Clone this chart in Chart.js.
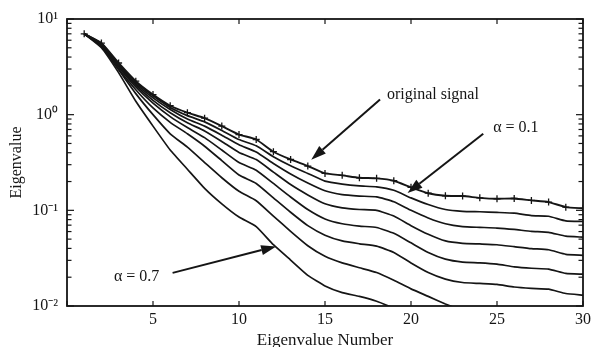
<!DOCTYPE html>
<html>
<head>
<meta charset="utf-8">
<script src="https://cdn.jsdelivr.net/npm/chart.js@4/dist/chart.umd.min.js"></script>
<style>
  body { margin: 0; background: #fff; }
</style>
</head>
<body>
<canvas id="myChart" width="595" height="347"></canvas>
<script>
const eigenNumber = [1, 2, 3, 4, 5, 6, 7, 8, 9, 10, 11, 12, 13, 14, 15,
  16, 17, 18, 19, 20, 21, 22, 23, 24, 25, 26, 27, 28, 29, 30];

const originalSignal = [7.0, 5.6, 3.47, 2.24, 1.62, 1.24, 1.05, 0.92, 0.76, 0.62,
  0.55, 0.41, 0.34, 0.29, 0.243, 0.232, 0.219, 0.216, 0.204, 0.174,
  0.151, 0.142, 0.141, 0.135, 0.132, 0.133, 0.127, 0.122, 0.108, 0.105];

const alpha1 = [7.0, 5.56, 3.39, 2.19, 1.57, 1.19, 0.977, 0.841, 0.684, 0.55,
  0.473, 0.363, 0.292, 0.243, 0.202, 0.188, 0.18, 0.176, 0.162, 0.135,
  0.115, 0.102, 0.0977, 0.0966, 0.0951, 0.0933, 0.0881, 0.0867, 0.0776, 0.0764];

const alpha2 = [7.0, 5.5, 3.31, 2.11, 1.5, 1.135, 0.902, 0.759, 0.61, 0.484,
  0.407, 0.309, 0.24, 0.193, 0.16, 0.146, 0.141, 0.138, 0.123, 0.1,
  0.0832, 0.0724, 0.0676, 0.0664, 0.0653, 0.0631, 0.0603, 0.0589, 0.0537, 0.0524];

const alpha3 = [7.0, 5.43, 3.24, 2.04, 1.41, 1.047, 0.822, 0.676, 0.525, 0.403,
  0.339, 0.251, 0.186, 0.145, 0.117, 0.106, 0.102, 0.1, 0.0871, 0.0692,
  0.0562, 0.0479, 0.0452, 0.0445, 0.0437, 0.0417, 0.0398, 0.0387, 0.0347, 0.0339];

const alpha4 = [7.0, 5.37, 3.16, 1.95, 1.32, 0.955, 0.733, 0.575, 0.427, 0.316,
  0.263, 0.191, 0.138, 0.102, 0.0813, 0.0724, 0.0684, 0.0661, 0.0575, 0.0457,
  0.0363, 0.0309, 0.0288, 0.0283, 0.0274, 0.0257, 0.0248, 0.0243, 0.0219, 0.0215];

const alpha5 = [7.0, 5.25, 3.02, 1.82, 1.175, 0.832, 0.631, 0.468, 0.331, 0.234,
  0.191, 0.135, 0.0955, 0.0692, 0.055, 0.0479, 0.0447, 0.0422, 0.0363, 0.0282,
  0.0224, 0.0191, 0.0176, 0.0172, 0.0168, 0.0158, 0.0153, 0.015, 0.0135, 0.013];

const alpha6 = [7.0, 5.13, 2.95, 1.66, 1.0, 0.631, 0.457, 0.316, 0.219, 0.158,
  0.126, 0.0871, 0.0603, 0.0427, 0.0331, 0.0282, 0.0251, 0.0224, 0.0186, 0.0151,
  0.0126, 0.0105, 0.0089];

const alpha7 = [7.0, 5.01, 2.75, 1.38, 0.759, 0.427, 0.269, 0.17, 0.117, 0.0851,
  0.0676, 0.0437, 0.0302, 0.0209, 0.0162, 0.0138, 0.0126, 0.0112, 0.0095, 0.0079];

const xTickValues = [0, 5, 10, 15, 20, 25, 30];
const yTickValues = [0.01, 0.1, 1, 10];
const yTickLabels = ['10\u207B\u00B2', '10\u207B\u00B9', '10\u2070', '10\u00B9'];

// annotations, positions in data units
const notes = [
  { text: 'original signal', at: [18.6, 1.62], align: 'left', from: [18.2, 1.44], to: [14.2, 0.338] },
  { text: '\u03B1 = 0.1', at: [26.1, 0.73], align: 'center', from: [24.2, 0.632], to: [19.8, 0.152] },
  { text: '\u03B1 = 0.7', at: [4.05, 0.0201], align: 'center', from: [6.14, 0.0222], to: [12.16, 0.042] }
];

const FONT = "'Liberation Serif', 'Times New Roman', serif";
const INK = '#151515';

function toPoints(values) {
  return values.map(function (v, i) { return { x: eigenNumber[i], y: v }; });
}

function curve(values, extra) {
  return Object.assign({
    data: toPoints(values),
    borderColor: INK,
    borderWidth: 1.7,
    pointRadius: 0,
    fill: false,
    tension: 0.15
  }, extra || {});
}

const dataSource = {
  datasets: [
    curve(originalSignal, { label: 'original signal', pointStyle: 'cross', pointRadius: 3.5,
      pointBorderColor: INK, pointBorderWidth: 1.3, borderWidth: 1.9 }),
    curve(alpha1, { label: 'alpha 0.1' }),
    curve(alpha2, { label: 'alpha 0.2' }),
    curve(alpha3, { label: 'alpha 0.3' }),
    curve(alpha4, { label: 'alpha 0.4' }),
    curve(alpha5, { label: 'alpha 0.5' }),
    curve(alpha6, { label: 'alpha 0.6' }),
    curve(alpha7, { label: 'alpha 0.7' })
  ]
};

function drawLine(ctx, x1, y1, x2, y2) {
  ctx.beginPath();
  ctx.moveTo(x1, y1);
  ctx.lineTo(x2, y2);
  ctx.stroke();
}

function drawArrow(ctx, x1, y1, x2, y2) {
  const ang = Math.atan2(y2 - y1, x2 - x1);
  const len = 15, half = 5;
  const bx = x2 - len * Math.cos(ang), by = y2 - len * Math.sin(ang);
  ctx.lineWidth = 2;
  drawLine(ctx, x1, y1, bx, by);
  ctx.beginPath();
  ctx.moveTo(x2, y2);
  ctx.lineTo(bx + half * Math.sin(ang), by - half * Math.cos(ang));
  ctx.lineTo(bx - half * Math.sin(ang), by + half * Math.cos(ang));
  ctx.closePath();
  ctx.fill();
}

const framePlugin = {
  id: 'frame',
  afterDraw(chart) {
    const ctx = chart.ctx, a = chart.chartArea;
    const x = chart.scales.x, y = chart.scales.y;
    ctx.save();
    ctx.strokeStyle = INK;
    ctx.fillStyle = INK;
    ctx.lineWidth = 1.8;
    ctx.strokeRect(a.left, a.top, a.right - a.left, a.bottom - a.top);

    ctx.lineWidth = 1.2;
    xTickValues.forEach(function (v) {
      const px = x.getPixelForValue(v);
      drawLine(ctx, px, a.bottom, px, a.bottom - 5);
      drawLine(ctx, px, a.top, px, a.top + 5);
    });
    yTickValues.forEach(function (d) {
      const py = y.getPixelForValue(d);
      drawLine(ctx, a.left, py, a.left + 7, py);
      drawLine(ctx, a.right, py, a.right - 7, py);
      if (d >= 10) return;
      for (let m = 2; m <= 9; m++) {
        const pm = y.getPixelForValue(d * m);
        drawLine(ctx, a.left, pm, a.left + 4.5, pm);
        drawLine(ctx, a.right, pm, a.right - 4.5, pm);
      }
    });

    notes.forEach(function (n) {
      drawArrow(ctx, x.getPixelForValue(n.from[0]), y.getPixelForValue(n.from[1]),
        x.getPixelForValue(n.to[0]), y.getPixelForValue(n.to[1]));
      ctx.font = '16px ' + FONT;
      ctx.textAlign = n.align;
      ctx.textBaseline = 'middle';
      ctx.fillText(n.text, x.getPixelForValue(n.at[0]), y.getPixelForValue(n.at[1]));
    });
    ctx.restore();
  }
};

function createChart() {
  const ctx = document.getElementById('myChart').getContext('2d');
  new Chart(ctx, {
    type: 'line',
    data: dataSource,
    plugins: [framePlugin],
    options: {
      responsive: false,
      animation: false,
      devicePixelRatio: 1,
      layout: { padding: { top: 19, right: 10, left: 0, bottom: 0 } },
      plugins: { legend: { display: false }, tooltip: { enabled: false } },
      scales: {
        x: {
          type: 'linear',
          min: 0,
          max: 30,
          afterBuildTicks: function (scale) {
            scale.ticks = xTickValues.map(function (v) { return { value: v }; });
          },
          afterFit: function (scale) { scale.height = 41; },
          grid: { display: false, drawTicks: false },
          border: { display: false },
          ticks: {
            padding: 4,
            color: INK,
            font: { family: FONT, size: 16 },
            callback: function (v) { return v === 0 ? '' : String(v); }
          },
          title: {
            display: true,
            text: 'Eigenvalue Number',
            color: INK,
            font: { family: FONT, size: 17 },
            padding: { top: 4, bottom: -4 }
          }
        },
        y: {
          type: 'logarithmic',
          min: 0.01,
          max: 10,
          afterBuildTicks: function (scale) {
            scale.ticks = yTickValues.map(function (v) { return { value: v }; });
          },
          afterFit: function (scale) { scale.width = 67; },
          grid: { display: false, drawTicks: false },
          border: { display: false },
          ticks: {
            padding: 9,
            color: INK,
            font: { family: FONT, size: 16 },
            callback: function (v) {
              const i = yTickValues.indexOf(v);
              return i < 0 ? '' : yTickLabels[i];
            }
          },
          title: {
            display: true,
            text: 'Eigenvalue',
            color: INK,
            font: { family: FONT, size: 16 },
            padding: { top: 7, bottom: 4 }
          }
        }
      }
    }
  });
}

createChart();
</script>
</body>
</html>
